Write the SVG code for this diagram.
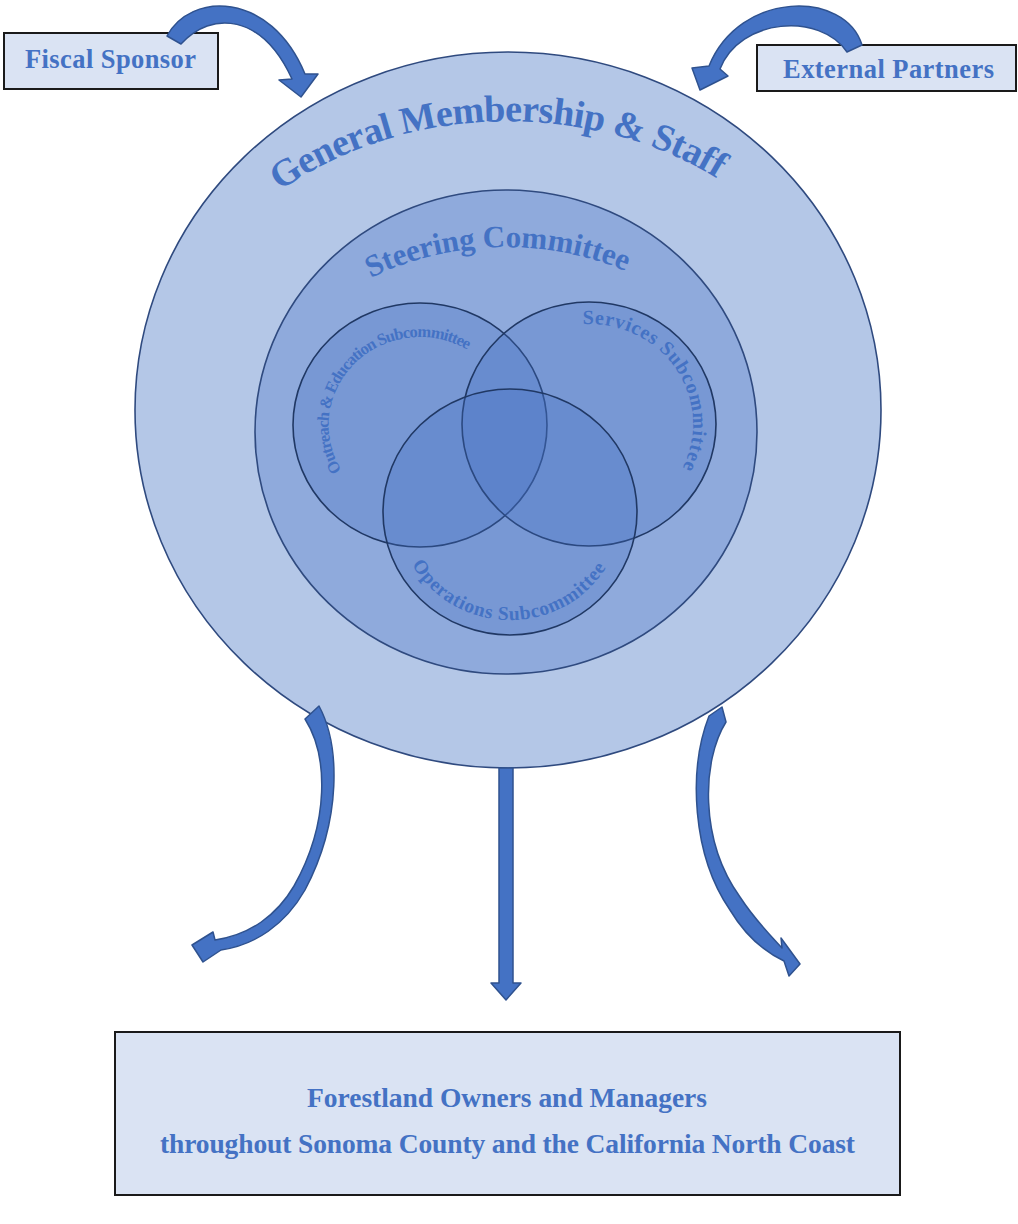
<svg xmlns="http://www.w3.org/2000/svg" width="1018" height="1224" viewBox="0 0 1018 1224">
<style>
.t{font-family:"Liberation Serif","DejaVu Serif",serif;font-weight:bold;fill:#4472c4}
.box{fill:#dae3f3;stroke:#1a1a1a;stroke-width:2}
.arr{fill:#4472c4;stroke:#2f528f;stroke-width:1.5;stroke-linejoin:round}
.ven{fill:#4472c4;fill-opacity:0.3;stroke:#203864;stroke-width:1.6}
</style>
<defs>
<path id="pGen" d="M280,191 A350,288 0 0 1 726,184"/>
<path id="pSteer" d="M371,278 A244,185 0 0 1 632,274"/>
<path id="pOut" d="M341.6,470.3 A91.5,88 0 0 1 468.5,350.4"/>
<path id="pSer" d="M582.7,324.2 A104,100 0 0 1 682,468.8"/>
<path id="pOps" d="M412,564.4 A112,108 0 0 0 608.9,562.7"/>
</defs>
<rect width="1018" height="1224" fill="#ffffff"/>

<g id="general-membership">
<ellipse cx="508" cy="410" rx="373" ry="358" fill="#b4c7e7" stroke="#2f4a7f" stroke-width="1.6"/>
<text class="t" font-size="38"><textPath href="#pGen" textLength="462">General Membership &amp; Staff</textPath></text>
</g>

<g id="steering-committee">
<ellipse cx="506" cy="432" rx="251" ry="242" fill="#8faadc" stroke="#2f4a7f" stroke-width="1.6"/>
<text class="t" font-size="31"><textPath href="#pSteer" textLength="262">Steering Committee</textPath></text>
</g>

<g id="outreach-subcommittee">
<ellipse class="ven" cx="420" cy="425" rx="127" ry="122"/>
</g>
<g id="services-subcommittee">
<ellipse class="ven" cx="589" cy="424" rx="127" ry="122"/>
</g>
<g id="operations-subcommittee">
<ellipse class="ven" cx="510" cy="512" rx="127" ry="123"/>
</g>
<g id="subcommittee-labels">
<text class="t" font-size="16.5"><textPath href="#pOut" textLength="238">Outreach &amp; Education Subcommittee</textPath></text>
<text class="t" font-size="20"><textPath href="#pSer" textLength="212">Services Subcommittee</textPath></text>
<text class="t" font-size="19.5"><textPath href="#pOps" textLength="232">Operations Subcommittee</textPath></text>
</g>

<g id="fiscal-sponsor">
<rect class="box" x="4" y="33" width="214" height="56"/>
<text class="t" font-size="26.5" x="110.5" y="68" text-anchor="middle" textLength="171">Fiscal Sponsor</text>
</g>

<g id="external-partners">
<rect class="box" x="757" y="45" width="259" height="46"/>
<text class="t" font-size="26.5" x="888.5" y="78" text-anchor="middle" textLength="211">External Partners</text>
</g>

<g id="forestland-owners">
<rect class="box" x="115" y="1032" width="785" height="163"/>
<text class="t" font-size="27.5" x="507" y="1107" text-anchor="middle" textLength="400">Forestland Owners and Managers</text>
<text class="t" font-size="27.5" x="507.5" y="1153" text-anchor="middle" textLength="695">throughout Sonoma County and the California North Coast</text>
</g>

<g id="connectors">
<path class="arr" d="M167,36 C190,-8 270,-10 305,74 L318,74 L301,97 L279,80 L292,79 C262,14 212,10 181,44 Z"/>
<path class="arr" d="M862,45 C845,-10 740,-10 709,66 L692,68 L700,90 L728,76 L720,69 C740,18 820,12 847,52 Z"/>
<path class="arr" d="M305,719 L319,706 C340,745 342,820 305,890 C285,925 255,945 221,950 L203,962 L192,945 L213,932 L215,940 C250,935 277,915 294,886 C330,822 328,755 305,719 Z"/>
<path class="arr" d="M709,716 L722,707 L726,722 C702,760 699,840 740,897 C755,920 770,935 782,948 L781,938 L800,964 L789,976 L784,961 C765,952 745,935 730,910 C692,855 688,770 709,716 Z"/>
<path class="arr" d="M499,768 L513,768 L513,983 L521,983 L506,1000 L491,983 L499,983 Z"/>
</g>
</svg>
